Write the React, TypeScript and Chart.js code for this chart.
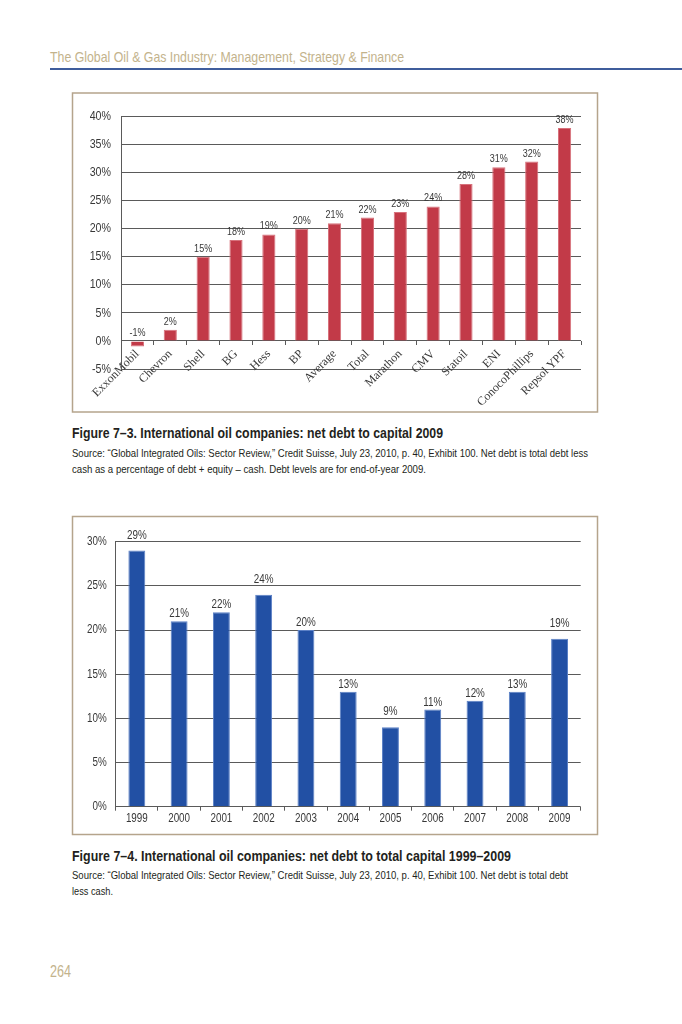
import React, { useEffect, useRef } from 'react';
import { Chart, registerables } from 'chart.js';

Chart.register(...registerables);

// ---------- data ----------
const companies = ['ExxonMobil', 'Chevron', 'Shell', 'BG', 'Hess', 'BP', 'Average', 'Total', 'Marathon', 'CMV', 'Statoil', 'ENI', 'ConocoPhillips', 'Repsol YPF'];
const netDebtToCapital2009 = [-1, 2, 15, 18, 19, 20, 21, 22, 23, 24, 28, 31, 32, 38];
const chart1Min = -5;
const chart1Max = 40;

const years = ['1999', '2000', '2001', '2002', '2003', '2004', '2005', '2006', '2007', '2008', '2009'];
const netDebtToTotalCapital = [29, 21, 22, 24, 20, 13, 9, 11, 12, 13, 19];
const chart2Min = 0;
const chart2Max = 30;
const tickStep = 5;

// ---------- text ----------
const headerText = 'The Global Oil & Gas Industry: Management, Strategy & Finance';
const caption1 = 'Figure 7\u20133. International oil companies: net debt to capital 2009';
const source1a = 'Source: \u201cGlobal Integrated Oils: Sector Review,\u201d Credit Suisse, July 23, 2010, p. 40, Exhibit 100. Net debt is total debt less';
const source1b = 'cash as a percentage of debt + equity \u2013 cash. Debt levels are for end-of-year 2009.';
const caption2 = 'Figure 7\u20134. International oil companies: net debt to total capital 1999\u20132009';
const source2a = 'Source: \u201cGlobal Integrated Oils: Sector Review,\u201d Credit Suisse, July 23, 2010, p. 40, Exhibit 100. Net debt is total debt';
const source2b = 'less cash.';
const pageNumber = '264';

// ---------- style ----------
const SANS = "'Liberation Sans', Arial, sans-serif";
const SERIF = "'Liberation Serif', 'DejaVu Serif', serif";
const NARROW_SCALE = 0.82;
const GRID = '#5a5a5a';
const TEXT = '#383838';
const TAN = '#c3b38c';
const RED = '#c23a48';
const BLUE = '#2250a4';

function narrowText(ctx: CanvasRenderingContext2D, text: string, x: number, y: number) {
  ctx.save();
  ctx.translate(x, y);
  ctx.scale(NARROW_SCALE, 1);
  ctx.fillText(text, 0, 0);
  ctx.restore();
}

// draws y tick labels, (optionally) x tick labels and bar value labels in a condensed face
const narrowLabels = {
  id: 'narrowLabels',
  afterDatasetsDraw(chart: any, _args: any, opts: any) {
    const { ctx, chartArea } = chart;
    const yScale = chart.scales.y;
    const xScale = chart.scales.x;
    ctx.save();
    ctx.fillStyle = TEXT;

    // y ticks
    ctx.font = `${opts.ySize}px ${SANS}`;
    ctx.textAlign = 'right';
    ctx.textBaseline = 'middle';
    yScale.ticks.forEach((t: any, i: number) => {
      narrowText(ctx, String(t.label), chartArea.left - opts.yPad, yScale.getPixelForTick(i));
    });

    // x ticks
    if (opts.xSize) {
      ctx.font = `${opts.xSize}px ${SANS}`;
      ctx.textAlign = 'center';
      ctx.textBaseline = 'top';
      xScale.ticks.forEach((t: any, i: number) => {
        narrowText(ctx, String(t.label), xScale.getPixelForTick(i), chartArea.bottom + opts.xPad);
      });
    }

    // value labels
    const meta = chart.getDatasetMeta(0);
    const data = chart.data.datasets[0].data as number[];
    ctx.font = `${opts.vSize}px ${SANS}`;
    ctx.textAlign = 'center';
    ctx.textBaseline = 'alphabetic';
    meta.data.forEach((bar: any, i: number) => {
      const { x, y, base } = bar.getProps(['x', 'y', 'base'], true);
      let baseline = Math.min(y, base) - opts.offset;
      if (opts.avoidGrid) {
        for (const t of yScale.ticks) {
          const gy = yScale.getPixelForValue(t.value);
          if (gy > baseline - opts.capHeight - 1 && gy < baseline + 1) {
            baseline = gy - 3;
          }
        }
      }
      narrowText(ctx, `${data[i]}%`, x, baseline);
    });
    ctx.restore();
  },
};

function useBarChart(ref: React.RefObject<HTMLCanvasElement>, build: () => any) {
  useEffect(() => {
    if (!ref.current) return;
    const chart = new Chart(ref.current, build());
    return () => chart.destroy();
  }, []);
}

function Chart1() {
  const ref = useRef<HTMLCanvasElement>(null);
  useBarChart(ref, () => ({
    type: 'bar',
    data: {
      labels: companies,
      datasets: [{
        data: netDebtToCapital2009,
        backgroundColor: RED,
        borderColor: '#d7717b',
        borderWidth: 1,
        barPercentage: 0.4,
        categoryPercentage: 1,
      }],
    },
    plugins: [narrowLabels],
    options: {
      responsive: false,
      animation: false,
      devicePixelRatio: 1,
      layout: { padding: { left: 0, right: 16, top: 22.7, bottom: 42 } },
      plugins: {
        legend: { display: false },
        tooltip: { enabled: false },
        narrowLabels: { ySize: 13, yPad: 10, xSize: 0, vSize: 11, offset: 5, avoidGrid: false, capHeight: 8 },
      },
      scales: {
        x: {
          position: { y: 0 },
          grid: { display: true, drawOnChartArea: false, offset: true, tickLength: 4, color: GRID },
          border: { display: false },
          ticks: { autoSkip: false, minRotation: 45, maxRotation: 45, padding: 2, color: TEXT, font: { family: SERIF, size: 12 } },
          afterFit: (s: any) => { s.height = 0; s.paddingLeft = 0; s.paddingRight = 0; },
        },
        y: {
          min: chart1Min,
          max: chart1Max,
          ticks: { display: false, stepSize: tickStep, callback: (v: any) => `${v}%` },
          grid: { color: GRID, drawTicks: false },
          border: { display: true, color: GRID },
          afterFit: (s: any) => { s.width = 48; s.paddingTop = 0; s.paddingBottom = 0; },
        },
      },
    },
  }));
  return <canvas ref={ref} width={524} height={317} style={{ position: 'absolute', left: 73, top: 94, width: 524, height: 317 }} />;
}

function Chart2() {
  const ref = useRef<HTMLCanvasElement>(null);
  useBarChart(ref, () => ({
    type: 'bar',
    data: {
      labels: years,
      datasets: [{
        data: netDebtToTotalCapital,
        backgroundColor: BLUE,
        borderColor: '#5b80c6',
        borderWidth: 1,
        barPercentage: 0.4,
        categoryPercentage: 1,
      }],
    },
    plugins: [narrowLabels],
    options: {
      responsive: false,
      animation: false,
      devicePixelRatio: 1,
      layout: { padding: { left: 0, right: 16.3, top: 24.7, bottom: 0.3 } },
      plugins: {
        legend: { display: false },
        tooltip: { enabled: false },
        narrowLabels: { ySize: 12, yPad: 9, xSize: 12, xPad: 6, vSize: 12, offset: 4, avoidGrid: true, capHeight: 9 },
      },
      scales: {
        x: {
          grid: { display: true, drawOnChartArea: false, offset: true, tickLength: 4, color: GRID },
          border: { display: false },
          ticks: { display: false, autoSkip: false },
          afterFit: (s: any) => { s.height = 27; s.paddingLeft = 0; s.paddingRight = 0; },
        },
        y: {
          min: chart2Min,
          max: chart2Max,
          ticks: { display: false, stepSize: tickStep, callback: (v: any) => `${v}%` },
          grid: { color: GRID, drawTicks: false },
          border: { display: true, color: GRID },
          afterFit: (s: any) => { s.width = 42.7; s.paddingTop = 0; s.paddingBottom = 0; },
        },
      },
    },
  }));
  return <canvas ref={ref} width={524} height={317} style={{ position: 'absolute', left: 73, top: 517, width: 524, height: 317 }} />;
}

function T(props: { x: number; y: number; w: number; size: number; bold?: boolean; fill?: string; children: string }) {
  return (
    <text
      x={props.x}
      y={props.y}
      fontSize={props.size}
      fontFamily={SANS}
      fontWeight={props.bold ? 700 : 400}
      fill={props.fill || '#231f20'}
      textLength={props.w}
      lengthAdjust="spacingAndGlyphs"
    >
      {props.children}
    </text>
  );
}

export default function App() {
  return (
    <div style={{ position: 'absolute', left: 0, top: 0, width: 682, height: 1024, background: '#fff', overflow: 'hidden' }}>
      <svg width={682} height={1024} style={{ position: 'absolute', left: 0, top: 0 }}>
        <T x={50} y={62} w={354} size={15} fill={TAN}>{headerText}</T>
        <rect x={50} y={68} width={632} height={2} fill="#3f5d9c" />
        <rect x={72.5} y={93} width={525} height={319} fill="#fff" stroke="#b5a48c" strokeWidth={1.5} />
        <T x={72} y={438} w={371} size={15} bold>{caption1}</T>
        <T x={72} y={457} w={516} size={11}>{source1a}</T>
        <T x={72} y={473} w={354} size={11}>{source1b}</T>
        <rect x={72.5} y={516.5} width={525} height={318} fill="#fff" stroke="#b5a48c" strokeWidth={1.5} />
        <T x={72} y={861} w={439} size={15} bold>{caption2}</T>
        <T x={72} y={879} w={496} size={11}>{source2a}</T>
        <T x={72} y={895} w={41} size={11}>{source2b}</T>
        <T x={50} y={977} w={21} size={16} fill={TAN}>{pageNumber}</T>
      </svg>
      <Chart1 />
      <Chart2 />
    </div>
  );
}
